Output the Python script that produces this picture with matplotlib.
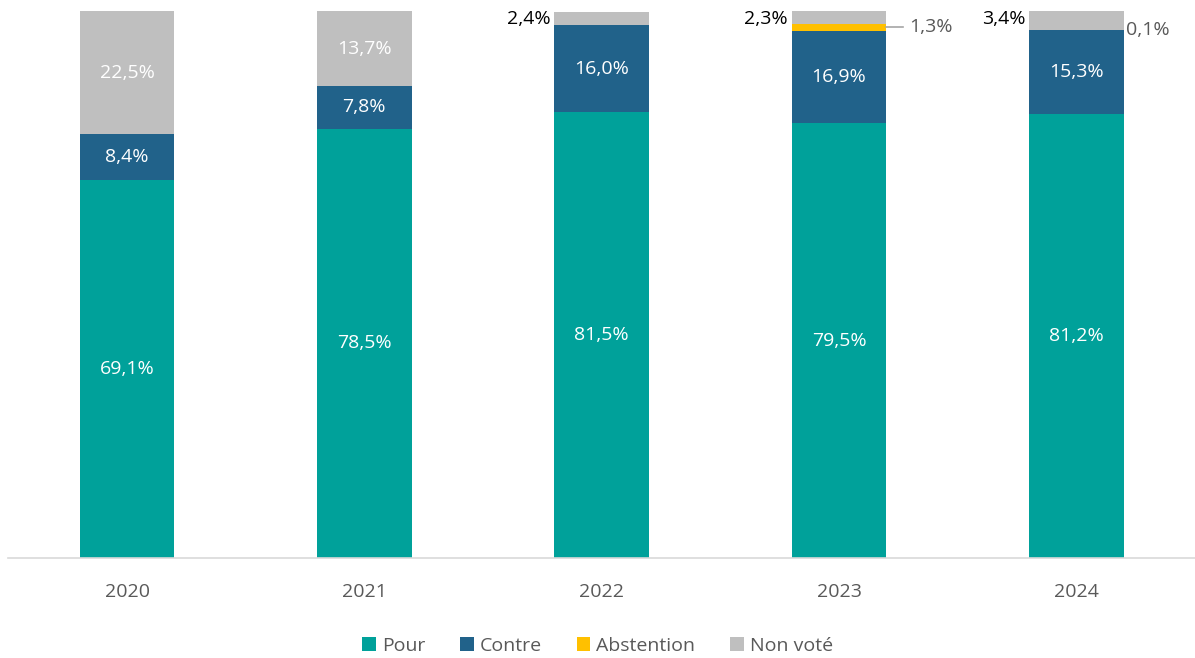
import matplotlib
matplotlib.use("Agg")
import matplotlib.pyplot as plt
import numpy as np

plt.rcParams["font.family"] = ["Open Sans", "DejaVu Sans"]

years = ["2020", "2021", "2022", "2023", "2024"]
pour = [69.1, 78.5, 81.5, 79.5, 81.2]
contre = [8.4, 7.8, 16.0, 16.9, 15.3]
abstention = [0.0, 0.0, 0.0, 1.3, 0.1]
non_vote = [22.5, 13.7, 2.4, 2.3, 3.4]

series = [
    ("Pour", pour, "#00A19A"),
    ("Contre", contre, "#21628A"),
    ("Abstention", abstention, "#FFC000"),
    ("Non voté", non_vote, "#BFBFBF"),
]


def fmt(v):
    return f"{v:.1f}".replace(".", ",") + "%"


fig = plt.figure(figsize=(11.95, 6.58), dpi=100)
ax = fig.add_axes([0.007, 0.152, 0.993, 0.831])

fs = 14
x = np.arange(len(years))
width = 0.4
bottom = np.zeros(len(years))
for name, vals, color in series:
    vals = np.array(vals)
    ax.bar(x, vals, width, bottom=bottom, color=color, label=name)
    for i, v in enumerate(vals):
        y = bottom[i] + v / 2
        if v >= 5:
            ax.text(x[i], y, fmt(v), ha="center", va="center",
                    color="white", fontsize=fs)
        elif name == "Non voté":
            ax.text(x[i] - width / 2 - 0.015, 98.5, fmt(v),
                    ha="right", va="center", color="black", fontsize=fs)
        elif name == "Abstention" and i == 3:
            ax.plot([x[i] + width / 2, x[i] + width / 2 + 0.07], [y, y],
                    color="#A6A6A6", linewidth=1.2)
            ax.text(x[i] + width / 2 + 0.095, y, fmt(v), ha="left",
                    va="center", color="#595959", fontsize=fs)
        elif name == "Abstention" and i == 4:
            ax.text(x[i] + width / 2 + 0.01, 96.5, fmt(v), ha="left",
                    va="center", color="#595959", fontsize=fs)
    bottom += vals

ax.set_xlim(-0.5, 4.5)
ax.set_ylim(0, 100)
ax.set_xticks(x)
ax.set_xticklabels(years, fontsize=fs, color="#595959")
ax.tick_params(axis="x", length=0, pad=18)
ax.set_yticks([])
for side in ["top", "right", "left"]:
    ax.spines[side].set_visible(False)
ax.spines["bottom"].set_color("#D9D9D9")
ax.spines["bottom"].set_linewidth(1.2)

fig.legend(loc="lower center", bbox_to_anchor=(0.5, -0.022), ncol=4,
           frameon=False, fontsize=fs, handlelength=0.7, handleheight=0.7,
           handletextpad=0.3, columnspacing=1.8, labelcolor="#595959")

fig.savefig("out.png", dpi=100)
